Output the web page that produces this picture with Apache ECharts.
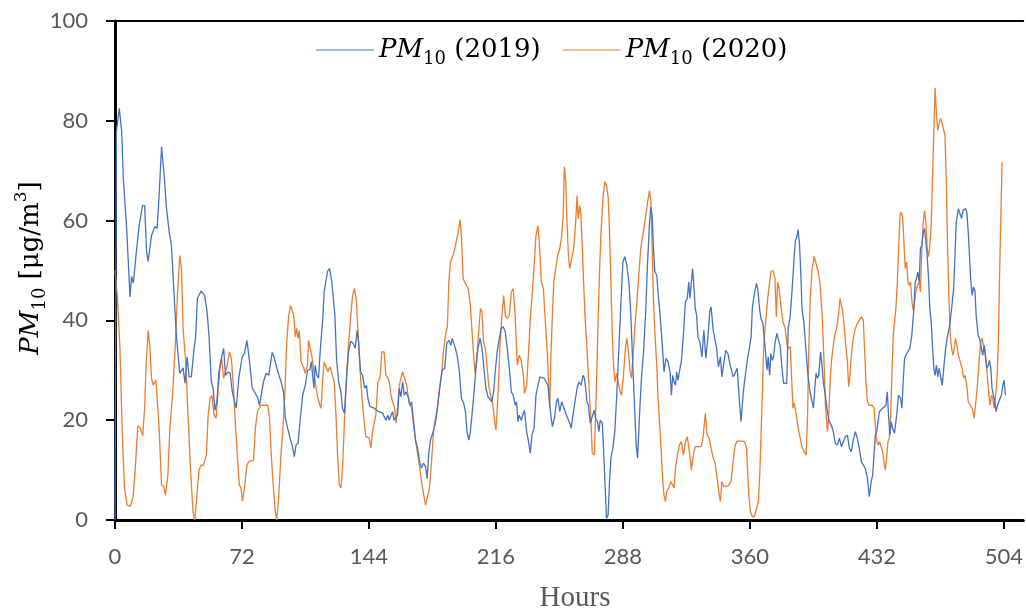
<!DOCTYPE html>
<html><head><meta charset="utf-8">
<script src="https://cdn.jsdelivr.net/npm/echarts@6/dist/echarts.min.js"></script>
<style>html,body{margin:0;padding:0;background:#fff}#c{width:1026px;height:610px}</style>
</head><body><div id="c"></div>
<script>
// ---- data ----
const hours2019 = [0,0.8,2.4,3.8,4.7,6.6,8.5,9.4,10.4,11.9,13.7,14.5,15.6,16.8,17.9,18.8,20.7,22.6,23.9,25,26.4,27.7,29.2,30.7,32,33.3,34.8,36.7,37.8,38.6,39.7,40.9,42,43.3,44.6,45.8,46.7,48.8,50.8,52.2,53.3,54.6,55.6,56.7,57.8,58.9,60.3,61.6,62.7,64,65.3,66.5,67.6,68.7,70.2,72.1,73.4,74.8,76.3,77.8,79.1,81,81.9,83,84.2,85.7,87.2,89.1,90.4,92.3,94.2,95.5,96.6,97.9,99.3,100.4,101.7,102.6,103.8,104.9,106.4,107.9,109.2,110.5,111.3,112,112.8,113.5,114.5,115.4,116.2,116.9,117.7,118.6,119.6,120.5,121.5,122.2,123,123.9,124.7,125.6,126.8,128.1,129,130.1,131.3,132.4,133.7,135,136.2,137.3,138.1,139.2,140.4,141.5,142.6,143.4,144.5,145.6,147,148.3,149.8,151.7,153.6,154.8,155.5,156.5,157.4,158.2,159.3,160.2,161.2,162.1,163.1,164,165,166.5,167.1,168.2,169.3,170.4,171.6,172.7,173.8,174.9,176.1,177,178,178.9,179.9,181,182.1,183.2,184.6,185.5,187,188.1,189.3,190.4,191.2,192.1,193,194,195.3,196.4,197.7,198.7,199.6,200.6,201.5,202.4,203.6,204.7,205.8,207,208.1,209.2,210.3,211.5,212.6,213.7,214.7,215.6,216.7,217.9,219,220.2,221.3,222.4,223.6,224.7,225.8,226.9,227.7,228.5,229.2,230.3,231.5,232.2,233.4,234.5,235.5,236.4,237.6,238.7,239.8,241,242.1,243.3,244.4,245.5,246.9,248,249.2,250.3,251.1,252.2,253.3,254.4,255.6,256.7,257.8,258.6,259.7,260.8,262,263.1,264.2,265.4,266.1,266.9,267.6,268.4,269.5,270.6,271.7,272.5,273.6,274.4,275.1,276.3,277,277.8,278.7,279.6,280.4,281.2,282.3,283.4,284.6,285.7,286.8,288,289.1,290.2,291.4,292.5,293.6,294.8,295.5,296.3,297.4,298.5,299.7,300.8,301.9,303.1,303.8,304.6,305.3,306.1,307.2,307.9,309.1,310.2,311.3,312.4,313.6,314.7,315.5,316.2,317,317.8,318.5,319.3,320,321.1,322.3,323.4,324.5,325.3,326,326.8,327.5,328.3,329,329.8,330.5,331.6,332.8,333.9,335,336.2,337.3,338,339.2,339.9,341,342.2,343.3,344.1,345.2,346.3,347.5,348.6,349.7,350.5,351.6,352.8,353.5,354.3,355,356.2,357.3,358.4,359.5,360.7,361.4,362.6,363.7,364.4,365.6,366.3,367.4,368.2,368.9,369.7,370.4,371.2,371.9,372.7,373.4,374.2,375.3,376.4,377.2,378.3,379.1,380.2,380.9,381.7,382.8,383.9,385.1,385.8,386.6,387.3,388.1,388.8,389.6,390.7,391.8,393,394.1,395.2,396,396.8,397.5,398.3,399,400.1,400.9,401.6,402.8,403.9,405,406.2,407.3,408.4,409.6,410.7,411.9,413,414.1,415.3,416.4,417.5,418.6,419.8,420.9,422,423.2,424.3,425.4,426.6,427.7,428.8,429.6,430.4,431.1,431.9,432.6,433.4,434.1,435.3,436.4,437.1,437.9,438.6,439.4,440.1,440.9,442,443.2,444.3,445.4,446.2,446.9,447.7,448.5,449.5,450.7,451.8,453,453.7,454.5,455.2,456,456.7,457.5,458.3,459,459.8,460.5,461.3,462,462.8,463.5,464.3,465,465.8,466.5,467.3,468,469.1,469.9,471,472.1,473.3,474.4,475.5,476.3,477,478.2,478.9,480,480.8,481.5,482.3,483,483.8,484.5,485.3,486,486.8,487.6,488.3,489.4,490.2,491.3,492,492.8,493.6,494.3,495.1,495.8,496.6,497.3,498.1,498.9,499.6,500.4,501.1,501.9,502.6,503.4,504.1,504.9];
const pm2019 = [0,77.8,82.5,77.8,68.5,58.5,44.7,48.8,47.5,53,59,59,63,63,53.8,51.8,57,58.8,58.4,65,74.8,69.8,62.5,57.8,55,46.5,37,29.4,29,30.5,27.4,32.7,28.7,28.7,33.7,37,44.4,45.9,45,41.7,37,27.7,26.4,22,23.7,29.7,32.4,34.4,29,29.7,29.4,25.7,25.4,22.4,28.4,32.7,33.4,36,31.7,26.4,25.7,24.4,22.9,22.5,27.7,29.4,29,33.6,32.4,29.7,27.7,25.7,20.4,18.4,16.4,15,12.7,15,15.4,19.7,25,27,30,30.2,31.7,32,26.4,31,29,28.4,33,36.4,39.7,45.8,45.9,49.8,50.4,49.4,47.4,47,41,32.4,27.7,25.7,22.4,21.4,28.4,33.7,35.8,35.4,34.4,38,35.7,29.7,29,26.4,27,24.4,22.7,22.4,22.4,22,21.7,21.4,20,21,20,21,21.7,20,19.7,21,26.4,24.7,27.7,25,25.7,24.4,23,23.7,19.7,16,14.4,11.7,10.4,11.4,10.7,8.3,13.7,16,15.7,18.4,20.4,23.7,27.7,30,30.4,35.4,36,35,36.4,35.4,34.4,33,29.7,24.4,23.4,21.7,17.7,16,17.7,21,25.7,30.4,34.4,36.4,34.4,30.4,26.4,24.7,24.4,23.7,25.7,29.7,33.7,36.4,38.4,38.7,37.7,34.4,30.4,25.7,25,23,23.7,19.7,21,20,21.4,22,17.7,15.7,13.4,17,18.4,25,27,28.7,29,28.4,28.7,27,21.7,18.7,20.4,23.7,24.4,21.7,23.7,24,21.4,21,19.4,18.4,21,23.7,26.4,27.7,27,29,28.4,26.4,23.7,23,19.4,19.4,22,20.4,19.7,17.7,20,19.4,14.4,7.7,0.3,1,7.7,12.4,14.4,17.7,25.7,34.4,43,51.7,52.8,51,47.7,41,31,21,15,12.4,21,28.4,33.7,41,51,59.7,62.7,61,54.4,49.7,49.1,45.7,41,35.7,29.7,32.4,31.7,29.7,25,29,27.7,27,29.7,28,29.7,31.7,37,43.7,44.4,47.7,44.4,47.7,50.4,46.4,42.4,41,36.7,35.7,32.7,38,32.4,36.7,42,42.7,38,38.4,34.7,30.7,32.7,28.7,31.4,34,33.4,31.4,31.4,28.7,29.4,30.4,26.7,22.7,19.7,25.4,28.7,31.7,32,36.7,42.7,45.4,47.4,46.4,42,40.4,39.4,36,33.4,30,32.7,29,33.4,32,32.7,35.4,37.4,37.7,34.7,30,27.4,27.7,27.4,38.4,40.7,46,52.7,56,56.7,58.2,55.4,50,42,39.4,34,28.7,25.7,25.4,22.4,26.4,29.4,28.4,29,33.7,31,27.7,25,21.7,19.7,19,17.7,15.4,15,16.4,14.7,15,16.7,17,14.4,13.7,16,17.7,16.4,14.4,11.7,11,10.4,8.4,4.7,7.7,9,13,17,17.7,17.4,21.7,22,22.4,22.4,23,25.7,21,17,19.7,18.4,17.4,21,25,24.4,22.4,27.7,32.4,33,33.7,34.4,37,42.4,47.7,48.4,49.7,47.7,54.4,55,57.7,58.4,55.7,53,48.4,42.4,39.7,35,30.4,29,31,28.7,30.4,29,27,30.4,34.4,37,39,42.4,46.4,53,59.7,62.4,62.4,60.4,62,61.7,62.4,61.7,57.7,53,47.7,45,46.7,46,41,37,36.4,36,33,35,35,30.4,31,32,30.4,26.4,25,23.7,21.7,23,23.7,23.4,25,27,28,25];
const hours2020 = [0,1.3,2.8,4.1,5.4,6.9,8.8,10.3,11.6,12.9,14.4,15.7,16.8,17.7,18.8,19.8,20.7,21.7,23.2,23.9,25,26.4,27.7,28.6,30,31.1,32.6,34.1,35.4,36.7,37.7,38.6,40.1,41.4,42.7,44.2,45.2,46.5,47.6,48.9,50.2,51.8,52.8,53.9,55,56.2,57.3,58.4,59.5,60.5,61.6,62.7,63.6,64.9,66,67.2,68.3,69.6,70.5,71.4,72.3,73.4,74.8,75.9,77.2,78.5,79.6,80.8,81.9,82.8,84.7,86.6,87.6,88.5,89.8,90.9,91.7,92.8,94.2,95.1,96.2,97.4,98.5,99.6,100.4,101.3,102.3,103,103.8,104.5,105.5,106.8,107.9,109.1,109.8,110.7,111.7,112.6,113.5,114.7,115.8,116.8,117.7,118.6,119.6,120.7,121.9,123,124.3,125.3,126.2,127.2,128.1,129,130.1,131.3,132.4,133.7,134.7,135.8,136.9,137.7,138.5,139.4,140.4,141.5,142.2,143.2,144.1,145.1,146,147,147.9,149.1,150.2,151.3,152.6,153.6,154.8,155.5,156.5,157.4,158.6,159.3,160.2,161.2,162.1,163.1,164.2,165.4,166.7,168.2,169.5,170.8,172.3,173.8,175.1,176.1,177.2,178.3,179.5,180.6,181.7,182.8,184,185.1,186.2,187.4,188.5,189.3,190.2,191.6,192.7,193.8,194.6,195.7,196.4,197.4,198.3,199.3,200.2,201.3,202.1,203.2,204.1,205.1,206.2,207.2,208.1,209,210,210.9,211.9,213,214.2,215.3,216,217.2,218.3,219.4,220.4,221.3,222.4,223.6,224.7,225.8,226.9,228.1,229.2,230.3,231.5,232.2,233.4,234.5,235.6,236.8,237.9,238.7,239.8,240.6,241.7,242.9,244,245.2,245.8,246.5,247.3,248,248.8,249.9,251,252.2,253.3,254.1,254.8,255.6,256.3,257.1,257.8,258.9,260.1,261.2,262,262.7,263.5,264.2,265,265.7,266.5,267.6,268.8,269.9,270.6,271.8,272.5,273.3,274,274.8,275.5,276.3,277,277.8,278.7,279.7,280.4,281.2,281.9,282.7,283.4,284.4,285.3,286.4,287.2,288.3,289.4,290.2,290.9,292.1,292.8,293.8,294.7,295.9,297,298.1,299.3,300.4,301.5,302.3,303.1,303.8,304.6,305.3,306.1,307.2,307.9,309.1,309.8,310.6,311.3,312.1,312.8,314,315.1,316.2,317,317.8,318.9,320,321.1,322.3,323.4,324.5,325.7,326.8,327.9,329,330.5,332.4,333.6,334.7,335.8,336.9,338,339.2,340.3,341.4,342.6,343.3,344.1,345.2,346.3,347.8,349.3,350.5,351.6,352.8,353.9,355.4,356.9,358.1,358.8,359.5,360.3,361.4,362.6,363.7,364.8,365.6,366.3,367.1,367.8,368.6,369.3,370.1,371.2,371.9,373.1,374.2,375,375.7,376.5,377.6,378.7,379.9,380.6,381.4,382.1,382.9,383.6,384.4,385.1,386.3,387.4,388.5,389.7,390.8,391.9,392.7,393.4,394.2,395.3,396.4,397.5,398.7,399.8,401,402.1,402.8,404,404.7,405.5,406.2,407.3,408.1,409.2,410.4,411.1,411.9,412.6,413.4,414.5,415.3,416,416.8,417.5,418.6,419.8,420.9,422,423.2,424.3,425,425.8,426.6,427.7,429.2,430.4,431.1,431.9,432.6,433.4,434.1,435.3,436,436.8,437.5,438.3,439,439.8,440.5,441.3,442,442.8,443.6,444.3,445.1,445.8,446.6,447.3,448.1,448.9,449.6,450.4,451.1,451.9,452.6,453.4,454.1,454.9,456,456.7,457.5,458.3,459,459.8,460.5,461.3,462,462.8,463.5,464.3,465,465.8,466.5,467.3,468,468.8,469.9,470.6,471.4,472.1,472.9,473.6,474.4,475.1,475.9,476.6,477.4,478.2,479.3,480.4,481.2,481.9,483,483.8,484.9,486,487.2,487.9,488.7,489.4,490.2,490.9,491.7,492.4,493.2,494,494.7,495.5,496.2,497,497.7,498.5,499.2,500,500.8,501.5,502.3,503];
const pm2020 = [50,45,34.5,17.7,6.4,3,2.8,4.7,11,18.9,18.4,16.9,22.4,31.7,38,34.4,28.4,27,28,27.8,18.4,7,6.7,5,9,18.4,25,34.4,45,53,50.4,38.4,31.7,21,11,1.7,0,5,10,11,11,13,21,24.4,25,21,20.4,25.7,30.4,32.4,28.4,28.4,31,33.7,32.4,26.4,19,11.7,7,6.4,3.8,6.4,11,11.7,11.9,11.9,18.4,21.8,21.8,23,23,23,20.4,13.7,6.4,1.7,0,4.4,13.7,17.7,24.4,35.8,41,43,43.4,41,36.7,38.4,36.4,38,31.7,30.7,29.4,31,36,34.4,32.7,32.4,27.7,25,23.4,22.4,27.7,31.7,32,29.7,30.7,30.9,27.7,21,13,7,6.4,10.4,19.7,29,35,41,45,46.4,43.7,38.4,33,27.7,23,19,16.7,17,16.4,14.4,17.7,18,21,27.7,28.4,33.7,33.7,29,28.4,27.7,25,23.7,22.4,19.4,22.4,27,28.4,29.7,28.4,27,23.7,22.4,18.4,15,11.7,7.7,5,3,2.7,6.4,11.7,17.7,20.4,22.4,26.4,29,33.7,37,39,47.7,51.7,53,54.4,56.4,57.7,60.2,57,48.4,47.7,48,46.4,43.7,39.7,33.7,29.4,32.4,37.7,42.4,41.7,35.7,34.4,31,27,25,23,19.7,18,25,35,41,45,41,40.4,41,45.7,46.4,41,31,33,32,29,25.4,27,33.7,41,46.4,52.4,57,59,55.7,47.7,46.4,39.7,33,27.7,22.4,34.4,41,47.7,50.4,53,54.4,57,61,70.8,67.8,59.7,53,50.4,50.4,54.4,59.7,65,60.4,63,61,54.4,47.7,41,34.4,26.4,19.7,13.4,13,21,31,41,50.4,57,62.4,65.7,67.8,67.1,64.4,57.7,47.7,37.7,31,27.7,29.4,29.7,25.7,25,29,34.4,36.4,34.4,29.7,28.4,33,38.4,43.7,49,54.4,57,59.7,62.4,64.4,66,64,54.4,44.4,37.7,31,24.4,17.7,13,7.7,5,3.7,5.7,6.4,7.7,8,6.4,10.4,13,15,15.7,13,15.7,16.7,13.7,10,13,14.7,14.7,14.7,17,21.4,17,16.4,14.4,12.4,11.4,8.4,5,3.7,7.7,6.7,6.7,6.9,7.7,11.7,15,15.8,15.8,15.8,15.7,14.4,9,4.4,1.7,0.7,0.7,1,3.7,9,17,25.7,34.4,38.4,41,44.4,47.7,49.8,50,48.4,40.7,47.7,46.4,43,39.7,38.7,38.4,34.4,34.4,34.7,29,22.4,23.4,21,18.4,16.4,14.4,13.7,13,21,34.4,44.4,50.4,52.8,52.4,49.8,47.1,41,31,23,17.7,21,27.7,31.7,35,37,38.4,41.7,44.4,44.4,41.7,39,34.4,31.7,26.7,29,33,36.4,38.4,39.4,40,40.7,40,34.4,27.7,23.7,23,23,22.4,19,15.7,15,15.7,15,13.7,11.7,10,12.4,15.7,16.4,21,29,37,39.7,42.4,47.7,54.4,61,61.7,60.7,61,50.4,51.7,47.7,47,47.7,43.7,42,43.7,45.7,47,47.7,45.7,54.4,59.7,62,59.7,54.4,52.8,55,59,67.8,77.8,86.6,81.1,78.1,78.5,80.5,79.8,79.5,77.1,67.8,54.4,44.4,37,34.4,33,34.4,36.4,35,33,31.7,30.4,28.4,29,27,23.7,23.4,22.4,20.4,23,25.7,29,33,35.7,36.4,35,34.4,31.7,28.4,25,23,25,24.4,22.4,24.4,27.7,34.4,47.7,61,71.7];
const xTickLabels = [0, 72, 144, 216, 288, 360, 432, 504];
const yTickLabels = [0, 20, 40, 60, 80, 100];
const seriesNames = ['PM10 (2019)', 'PM10 (2020)'];

const serif = "'DejaVu Serif', 'Liberation Serif', serif";
const tickFont = "Lato, 'Liberation Sans', sans-serif";
const richMath = {
  i: {fontFamily: serif, fontStyle: 'italic', fontSize: 26, color: '#000', fill: '#000', lineHeight: 36, verticalAlign: 'middle'},
  n: {fontFamily: serif, fontSize: 26, color: '#000', fill: '#000', lineHeight: 36, verticalAlign: 'middle'},
  s: {fontFamily: serif, fontSize: 18, color: '#000', fill: '#000', lineHeight: 36, verticalAlign: 'bottom'},
  p: {fontFamily: serif, fontSize: 17, color: '#000', fill: '#000', lineHeight: 36, verticalAlign: 'top'}
};
const zip = (xs, ys) => xs.map((x, k) => [x, ys[k]]);

const chart = echarts.init(document.getElementById('c'), null, {renderer: 'canvas'});
chart.setOption({
  animation: false,
  backgroundColor: '#fff',
  grid: {left: 115, right: 0, top: 21, bottom: 90, containLabel: false},
  legend: {
    left: 316, top: 37, padding: 0, itemWidth: 58, itemHeight: 14, itemGap: 22,
    icon: 'path://M0,0 L10,0 L10,0.18 L0,0.18 Z',
    data: seriesNames.map((n) => ({name: n})),
    formatter: (n) => '{i|PM}{s|10}{n| (' + n.slice(6, 10) + ')}',
    textStyle: {rich: richMath, fontFamily: serif, fontSize: 26, color: '#000', padding: [0, 0, 0, 0]}
  },
  xAxis: [{
    type: 'value', min: 0, max: 515, interval: 72,
    axisLine: {show: true, onZero: false, lineStyle: {color: '#000', width: 3}},
    axisTick: {show: true, length: 9, lineStyle: {color: '#000', width: 2}},
    axisLabel: {formatter: (v) => xTickLabels.includes(v) ? String(v) : '', color: '#595959', fontSize: 22, fontFamily: tickFont, margin: 26, showMaxLabel: false},
    splitLine: {show: false}
  }, {
    type: 'value', position: 'top', min: 0, max: 515,
    axisLine: {show: true, onZero: false, lineStyle: {color: '#000', width: 2}},
    axisTick: {show: false}, axisLabel: {show: false}, splitLine: {show: false}
  }],
  yAxis: {
    type: 'value', min: 0, max: 100, interval: 20,
    axisLine: {show: true, onZero: false, lineStyle: {color: '#000', width: 3}},
    axisTick: {show: true, length: 9, lineStyle: {color: '#000', width: 2}},
    axisLabel: {formatter: (v) => yTickLabels.includes(v) ? String(v) : '', color: '#595959', fontSize: 22, fontFamily: tickFont, margin: 27},
    splitLine: {show: false}
  },
  series: [
    {name: seriesNames[0], type: 'line', xAxisIndex: 0, data: zip(hours2019, pm2019), showSymbol: false, symbol: 'none',
     lineStyle: {color: '#4472C4', width: 1.3}, itemStyle: {color: '#4472C4'}, z: 3},
    {name: seriesNames[1], type: 'line', xAxisIndex: 0, data: zip(hours2020, pm2020), showSymbol: false, symbol: 'none',
     lineStyle: {color: '#ED7D31', width: 1.3}, itemStyle: {color: '#ED7D31'}, z: 2}
  ],
  graphic: [
    {type: 'text', x: 31, y: 268, rotation: Math.PI / 2,
     style: {text: '{i|PM}{s|10}{n| [μg/m}{p|3}{n|]}', rich: richMath, align: 'center', verticalAlign: 'middle', fill: '#000', fontFamily: serif, fontSize: 26}},
    {type: 'text', x: 575, y: 598,
     style: {text: 'Hours', fill: '#595959', fontFamily: "'Liberation Serif', serif", fontSize: 29, align: 'center', verticalAlign: 'middle'}}
  ]
});
</script>
</body></html>
